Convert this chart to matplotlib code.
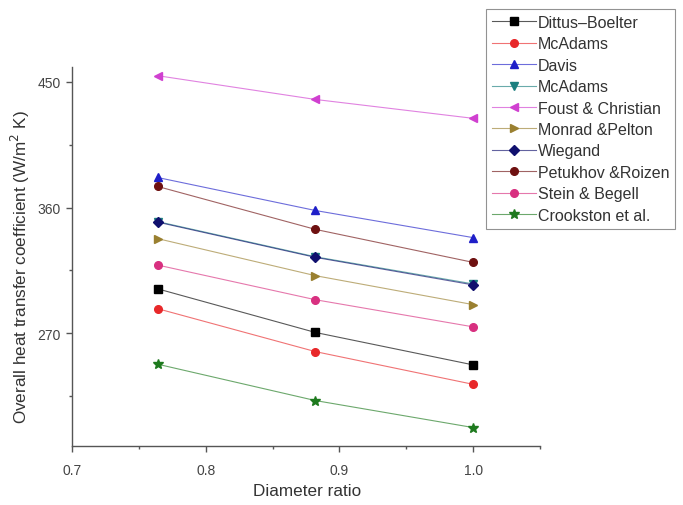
import matplotlib
matplotlib.use("Agg")
import matplotlib.pyplot as plt
from matplotlib.colors import to_rgba
from matplotlib.ticker import MultipleLocator, FormatStrFormatter

plt.rcParams['font.family'] = ['Liberation Sans', 'DejaVu Sans']

# Diameter ratios where the coefficient was evaluated
diameter_ratio = [0.764, 0.882, 1.0]

# Overall heat transfer coefficient (W/m2 K) per correlation
dittus_boelter = [301.9, 270.7, 247.5]
mcadams_1 = [287.7, 257.0, 233.6]
davis = [381.5, 357.9, 338.5]
mcadams_2 = [350.0, 324.8, 305.4]
foust_christian = [454.3, 437.3, 423.8]
monrad_pelton = [337.8, 311.3, 290.6]
wiegand = [349.6, 324.4, 304.7]
petukhov_roizen = [375.1, 344.4, 320.8]
stein_begell = [318.9, 294.1, 274.7]
crookston = [248.0, 222.0, 202.7]

series = [
    ("Dittus\u2013Boelter", dittus_boelter, 's', '#000000'),
    ("McAdams", mcadams_1, 'o', '#e8282a'),
    ("Davis", davis, '^', '#1f1fc8'),
    ("McAdams", mcadams_2, 'v', '#1b7f7f'),
    ("Foust & Christian", foust_christian, '<', '#d040d0'),
    ("Monrad &Pelton", monrad_pelton, '>', '#9a8030'),
    ("Wiegand", wiegand, 'D', '#10106e'),
    ("Petukhov &Roizen", petukhov_roizen, 'o', '#6e1010'),
    ("Stein & Begell", stein_begell, 'o', '#d83080'),
    ("Crookston et al.", crookston, '*', '#1e7a1e'),
]

fig = plt.figure(figsize=(6.83, 5.06), dpi=100)
ax = fig.add_axes([0.1054, 0.1166, 0.6852, 0.749])

for label, vals, mk, col in series:
    ms = {'*': 7, 'D': 5}.get(mk, 5.5)
    # translucent connecting line, solid markers
    ax.plot(diameter_ratio, vals, color=to_rgba(col, 0.65), linewidth=0.8,
            marker=mk, markersize=ms, markerfacecolor=col,
            markeredgecolor=col, label=label)

ax.set_xlim(0.7, 1.05)
ax.set_ylim(189.5, 460.5)
ax.xaxis.set_major_locator(MultipleLocator(0.1))
ax.xaxis.set_minor_locator(MultipleLocator(0.05))
ax.yaxis.set_minor_locator(MultipleLocator(45))
ax.set_yticks([270, 360, 450])
ax.xaxis.set_major_formatter(FormatStrFormatter('%.1f'))

for side in ('top', 'right'):
    ax.spines[side].set_visible(False)
for side in ('left', 'bottom'):
    ax.spines[side].set_color('#555555')
    ax.spines[side].set_linewidth(1.0)

ax.tick_params(which='major', direction='out', length=4.5, width=1,
               color='#555555', labelsize=10, labelcolor='#444444')
ax.tick_params(axis='x', which='major', pad=8)
ax.tick_params(which='minor', direction='out', length=2.5, width=1,
               color='#555555')

ax.set_xlabel("Diameter ratio", fontsize=12.3, color='#333333')
ax.xaxis.set_label_coords(0.502, -0.118)
ax.xaxis.label.set_va('center')
ax.set_ylabel("Overall heat transfer coefficient (W/m$^2$ K)",
              fontsize=12.3, color='#333333')
ax.yaxis.set_label_coords(-0.111, 0.475)
ax.yaxis.label.set_va('center')

leg = fig.legend(loc='upper left', bbox_to_anchor=(0.711, 0.981),
                 fontsize=11.5, frameon=True, fancybox=False,
                 labelspacing=0.40, handlelength=2.75, handletextpad=0.1,
                 borderpad=0.4, borderaxespad=0)
leg.get_frame().set_edgecolor('#777777')
leg.get_frame().set_linewidth(0.8)
for t in leg.get_texts():
    t.set_color('#333333')

fig.savefig("out.png", dpi=100)
